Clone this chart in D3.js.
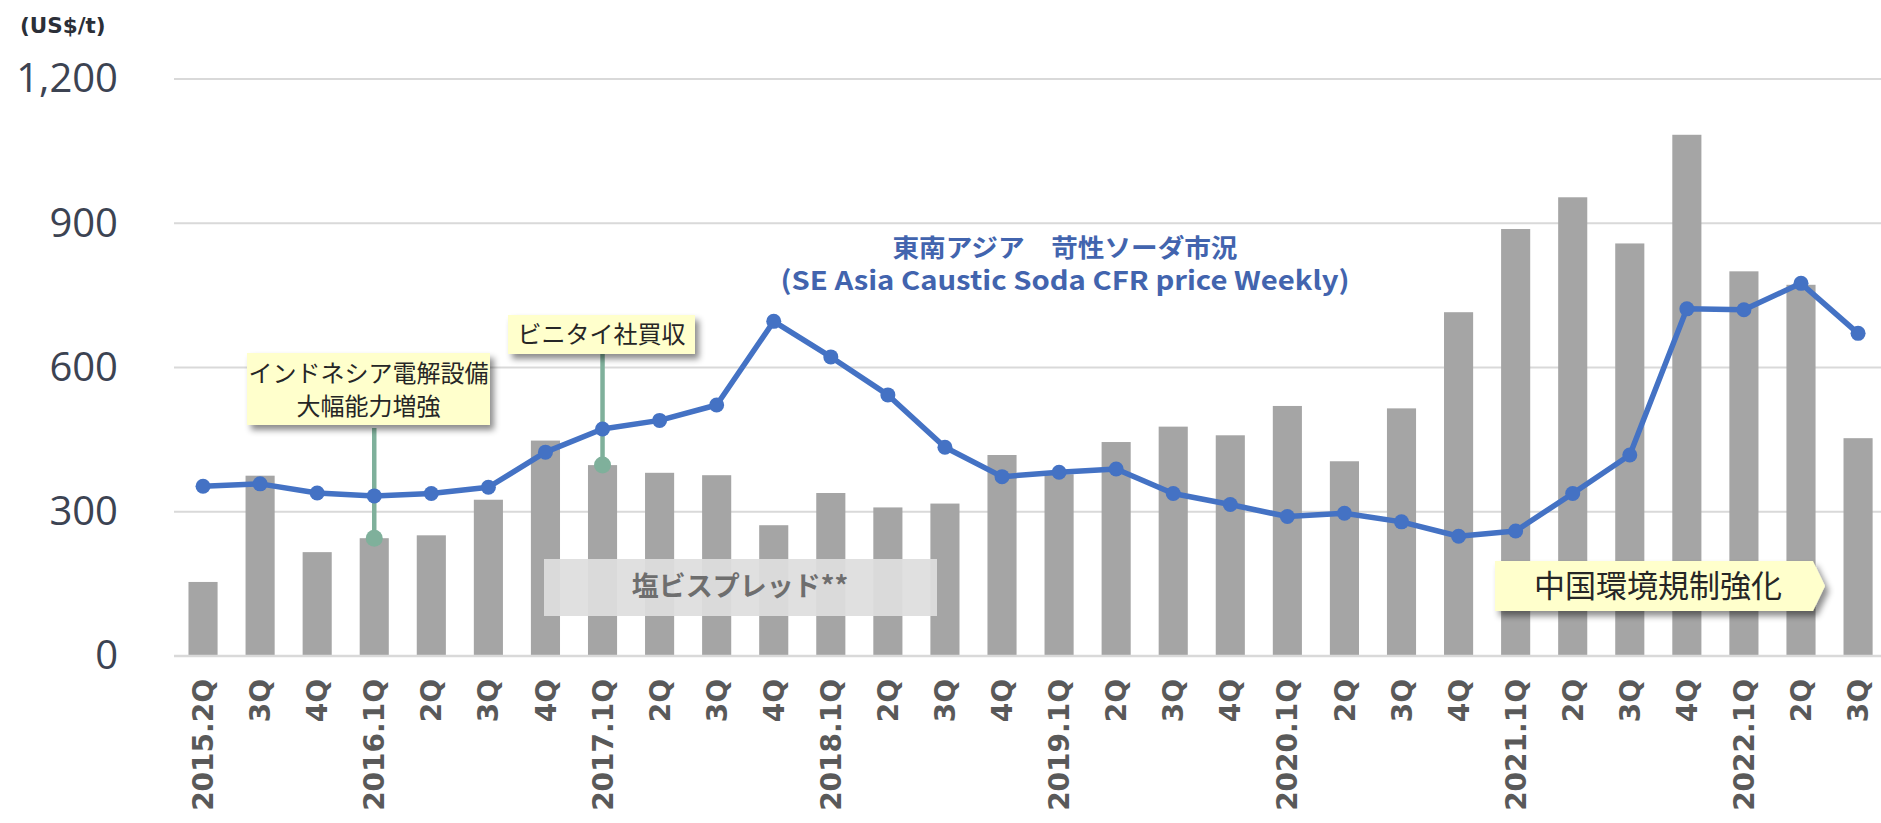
<!DOCTYPE html>
<html>
<head>
<meta charset="utf-8">
<script src="https://cdn.jsdelivr.net/npm/d3@7"></script>
<style>
  html, body { margin: 0; padding: 0; background: #ffffff; }
  svg { display: block; }
</style>
</head>
<body>
<svg id="chart" width="1881" height="823"></svg>
<script>
// ---------------- data ----------------
const categories = [
  "2015.2Q","3Q","4Q",
  "2016.1Q","2Q","3Q","4Q",
  "2017.1Q","2Q","3Q","4Q",
  "2018.1Q","2Q","3Q","4Q",
  "2019.1Q","2Q","3Q","4Q",
  "2020.1Q","2Q","3Q","4Q",
  "2021.1Q","2Q","3Q","4Q",
  "2022.1Q","2Q","3Q"
];
// 塩ビスプレッド** (bars, US$/t)
const spreadValues = [
  154, 375, 216,
  245, 251, 325, 448,
  397, 381, 376, 272,
  339, 309, 317, 418,
  378, 445, 477, 459,
  520, 405, 515, 715,
  888, 954, 858, 1084,
  800, 772, 453
];
// 東南アジア 苛性ソーダ市況 (line, US$/t)
const causticPrice = [
  353, 358, 339,
  333, 338, 351, 424,
  472, 490, 522, 696,
  622, 543, 434, 373,
  382, 389, 338, 315,
  290, 297, 279, 249,
  260, 338, 418, 722,
  720, 775, 671
];
const yTicks = [0, 300, 600, 900, 1200];
const unitLabel = "(US$/t)";
const titleLines = ["東南アジア　苛性ソーダ市況", "(SE Asia Caustic Soda CFR price Weekly)"];
const spreadLabel = "塩ビスプレッド**";
const chinaLabel = "中国環境規制強化";
const indoLines = ["インドネシア電解設備", "大幅能力増強"];
const vinythaiLabel = "ビニタイ社買収";

// ---------------- layout ----------------
const svg = d3.select("#chart");
const plotLeft = 174, plotRight = 1881;
const y0 = 656, yTop = 79;

const x = d3.scaleBand()
  .domain(d3.range(categories.length))
  .range([174.5, 174.5 + 57.07 * categories.length])
  .paddingInner(0.49)
  .paddingOuter(0.245);
const cx = i => x(i) + x.bandwidth() / 2;

const y = d3.scaleLinear().domain([0, 1200]).range([y0, yTop]);

const defs = svg.append("defs");
const sh = defs.append("filter").attr("id", "shadow")
  .attr("x", "-10%").attr("y", "-20%").attr("width", "130%").attr("height", "160%");
sh.append("feDropShadow").attr("dx", 4).attr("dy", 5).attr("stdDeviation", 3)
  .attr("flood-color", "#000").attr("flood-opacity", 0.45);

// gridlines
svg.append("g").selectAll("line")
  .data(yTicks)
  .join("line")
  .attr("x1", plotLeft).attr("x2", plotRight)
  .attr("y1", d => y(d)).attr("y2", d => y(d))
  .attr("stroke", "#D9D9D9").attr("stroke-width", 2);

// y axis labels
const yAxis = svg.append("g")
  .attr("transform", `translate(${plotLeft},0)`)
  .call(d3.axisLeft(y).tickValues(yTicks).tickFormat(d3.format(",")).tickSize(0).tickPadding(56));
yAxis.select(".domain").remove();
yAxis.selectAll("text")
  .attr("font-family", "'Open Sans', 'Noto Sans', sans-serif")
  .attr("font-size", 40)
  .attr("fill", "#3C4352");

// unit label
svg.append("text")
  .attr("x", 20).attr("y", 25).attr("dy", "0.35em")
  .attr("font-family", "'DejaVu Sans', Verdana, sans-serif")
  .attr("font-weight", "bold").attr("font-size", 21.5)
  .attr("fill", "#2B2F38")
  .text(unitLabel);

// bars
svg.append("g").selectAll("rect")
  .data(spreadValues)
  .join("rect")
  .attr("x", (d, i) => x(i))
  .attr("width", x.bandwidth())
  .attr("y", d => y(d))
  .attr("height", d => y(0) - y(d))
  .attr("fill", "#A5A5A5");

// x axis
const xAxis = svg.append("g")
  .attr("transform", `translate(0,${y0})`)
  .call(d3.axisBottom(x).tickFormat(i => categories[i]).tickSize(0));
xAxis.select(".domain").remove();
xAxis.selectAll("text")
  .attr("transform", "rotate(-90)")
  .attr("text-anchor", "end")
  .attr("x", -23).attr("y", 0).attr("dy", "0.36em")
  .attr("font-family", "'DejaVu Sans', Verdana, sans-serif")
  .attr("font-weight", "bold")
  .attr("font-size", 28)
  .attr("fill", "#595959");

// baseline
svg.append("line")
  .attr("x1", plotLeft).attr("x2", plotRight)
  .attr("y1", y(0)).attr("y2", y(0))
  .attr("stroke", "#D9D9D9").attr("stroke-width", 2.5);

// 塩ビスプレッド box
const sp = svg.append("g");
sp.append("rect").attr("x", 544).attr("y", 559).attr("width", 393).attr("height", 57)
  .attr("fill", "#DEDEDE").attr("opacity", 0.93);
sp.append("text").attr("x", 740).attr("y", 587).attr("dy", "0.35em")
  .attr("text-anchor", "middle")
  .attr("font-family", "'Noto Sans CJK JP', sans-serif")
  .attr("font-weight", "bold").attr("font-size", 27)
  .attr("fill", "#6E6E6E")
  .text(spreadLabel);

// callout pointers (anchored to bar tops)
const callouts = [
  { idx: 3, top: 428 },
  { idx: 7, top: 354 }
];
const cg = svg.append("g");
cg.selectAll("line").data(callouts).join("line")
  .attr("x1", d => cx(d.idx)).attr("x2", d => cx(d.idx))
  .attr("y1", d => d.top).attr("y2", d => y(spreadValues[d.idx]))
  .attr("stroke", "#7FB09B").attr("stroke-width", 4.5);
cg.selectAll("circle").data(callouts).join("circle")
  .attr("cx", d => cx(d.idx)).attr("cy", d => y(spreadValues[d.idx]))
  .attr("r", 8.5).attr("fill", "#7FB09B");

// callout boxes
const boxFont = "'Noto Sans CJK JP', sans-serif";
const b1 = svg.append("g");
b1.append("rect").attr("x", 247).attr("y", 353).attr("width", 243).attr("height", 72)
  .attr("fill", "#FFFFCC").attr("filter", "url(#shadow)");
b1.selectAll("text").data(indoLines).join("text")
  .attr("x", 368.5).attr("y", (d, i) => 374 + i * 33).attr("dy", "0.35em")
  .attr("text-anchor", "middle")
  .attr("font-family", boxFont).attr("font-size", 24).attr("fill", "#262626")
  .text(d => d);

const b2 = svg.append("g");
b2.append("rect").attr("x", 508).attr("y", 315).attr("width", 187).attr("height", 39)
  .attr("fill", "#FFFFCC").attr("filter", "url(#shadow)");
b2.append("text").attr("x", 601.5).attr("y", 334.5).attr("dy", "0.35em")
  .attr("text-anchor", "middle")
  .attr("font-family", boxFont).attr("font-size", 24).attr("fill", "#262626")
  .text(vinythaiLabel);

// line series
const line = d3.line().x((d, i) => cx(i)).y(d => y(d));
svg.append("path")
  .datum(causticPrice)
  .attr("d", line)
  .attr("fill", "none")
  .attr("stroke", "#4472C4")
  .attr("stroke-width", 5.5)
  .attr("stroke-linejoin", "round");
svg.append("g").selectAll("circle")
  .data(causticPrice)
  .join("circle")
  .attr("cx", (d, i) => cx(i))
  .attr("cy", d => y(d))
  .attr("r", 7.5)
  .attr("fill", "#4472C4");

// title
const titleWidths = [345, 569];
svg.append("g").selectAll("text")
  .data(titleLines)
  .join("text")
  .attr("x", 1065).attr("y", (d, i) => 248 + i * 33).attr("dy", "0.35em")
  .attr("text-anchor", "middle")
  .attr("font-family", "'Noto Sans CJK JP', sans-serif")
  .attr("font-weight", "bold")
  .attr("font-size", (d, i) => i === 0 ? 25 : 26)
  .attr("textLength", (d, i) => titleWidths[i])
  .attr("lengthAdjust", "spacingAndGlyphs")
  .attr("fill", "#4264AE")
  .text(d => d);

// China arrow box
const ab = svg.append("g");
ab.append("path")
  .attr("d", "M1495,561 L1813,561 L1825,586 L1813,611 L1495,611 Z")
  .attr("fill", "#FFFFCC").attr("filter", "url(#shadow)");
ab.append("text").attr("x", 1658).attr("y", 586).attr("dy", "0.35em")
  .attr("text-anchor", "middle")
  .attr("font-family", boxFont).attr("font-size", 31).attr("fill", "#262626")
  .text(chinaLabel);
</script>
</body>
</html>
